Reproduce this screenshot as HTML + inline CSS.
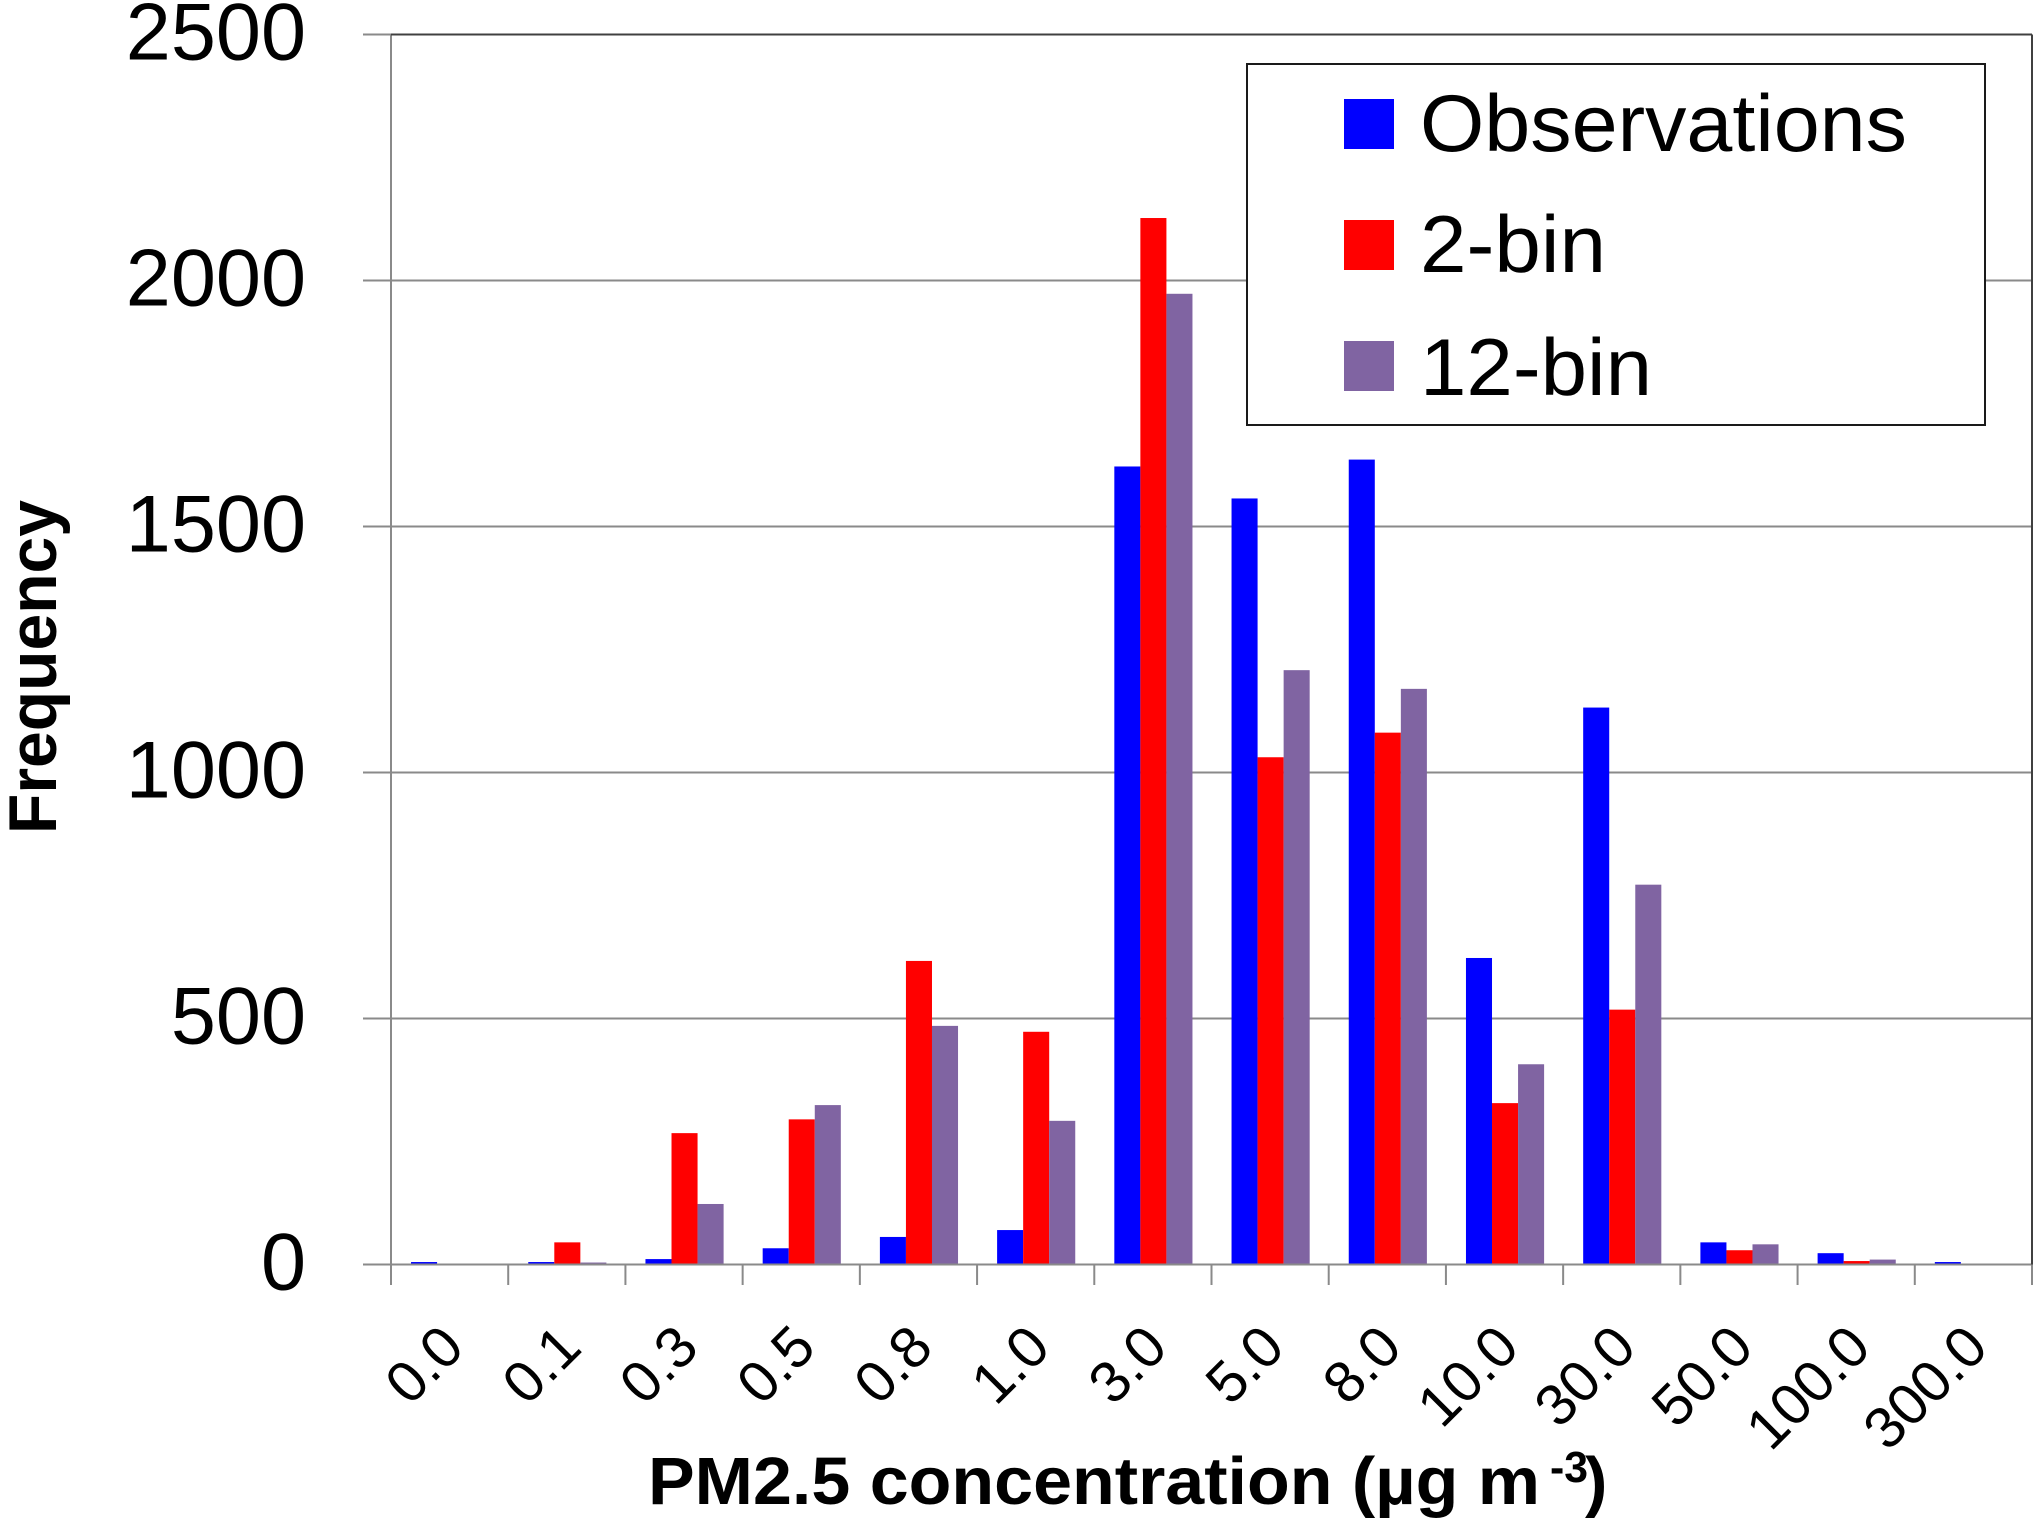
<!DOCTYPE html>
<html lang="en">
<head>
<meta charset="utf-8">
<title>PM2.5 concentration frequency</title>
<style>
html,body{margin:0;padding:0;background:#fff;width:2040px;height:1524px;overflow:hidden}
svg{display:block}
text{font-family:"Liberation Sans",sans-serif;fill:#000}
</style>
</head>
<body>
<svg id="chart" xmlns="http://www.w3.org/2000/svg" width="2040" height="1524" viewBox="0 0 2040 1524">
  <rect x="0" y="0" width="2040" height="1524" fill="#fff"/>
  <g id="grid"></g>
  <g id="bars"></g>
  <g id="axes"></g>
  <g id="ylabels"></g>
  <g id="xlabels"></g>
  <text transform="translate(56,834) rotate(-90)" font-size="68" font-weight="700" textLength="334" lengthAdjust="spacingAndGlyphs">Frequency</text>
  <g>
    <text x="648" y="1504" font-size="67" font-weight="700" textLength="892" lengthAdjust="spacingAndGlyphs">PM2.5 concentration (µg m</text>
    <text x="1550" y="1482" font-size="44" font-weight="700" textLength="38" lengthAdjust="spacingAndGlyphs">-3</text>
    <text x="1585" y="1504" font-size="67" font-weight="700">)</text>
  </g>
  <g>
    <rect x="1247" y="64" width="738" height="361" fill="#fff" stroke="#1a1a1a" stroke-width="2"/>
    <rect x="1344" y="99" width="50" height="50" fill="#0000ff"/>
    <text x="1420" y="151" font-size="81" textLength="487" lengthAdjust="spacingAndGlyphs">Observations</text>
    <rect x="1344" y="220" width="50" height="50" fill="#ff0000"/>
    <text x="1420" y="272" font-size="81" textLength="186" lengthAdjust="spacingAndGlyphs">2-bin</text>
    <rect x="1344" y="341" width="50" height="50" fill="#8064a2"/>
    <text x="1420" y="395" font-size="81" textLength="232" lengthAdjust="spacingAndGlyphs">12-bin</text>
  </g>
</svg>
<script>
const categories = ["0.0","0.1","0.3","0.5","0.8","1.0","3.0","5.0","8.0","10.0","30.0","50.0","100.0","300.0"];
const observations = [5,5,11,33,56,70,1622,1557,1636,623,1132,45,23,5];
const twoBin = [0,45,267,295,617,473,2127,1031,1081,328,518,29,7,0];
const twelveBin = [0,4,123,324,485,292,1973,1208,1170,407,772,41,10,0];
const yTicks = [0,500,1000,1500,2000,2500];

const NS = "http://www.w3.org/2000/svg";
const plotLeft = 391, plotRight = 2032, plotTop = 34.5, plotBottom = 1264.5, yMax = 2500;
const bandWidth = (plotRight - plotLeft) / categories.length;
const barWidth = bandWidth / 4.5;
const barOffset = barWidth * 0.75 + 0.5;

function xScale(i){ return plotLeft + i * bandWidth; }
function yScale(v){ return plotBottom - (v / yMax) * (plotBottom - plotTop); }

function line(parent, x1, y1, x2, y2, color){
  const el = document.createElementNS(NS, "line");
  el.setAttribute("x1", x1);
  el.setAttribute("y1", y1);
  el.setAttribute("x2", x2);
  el.setAttribute("y2", y2);
  el.setAttribute("stroke", color);
  el.setAttribute("stroke-width", 2);
  parent.appendChild(el);
  return el;
}

const grid = document.getElementById("grid");
const axes = document.getElementById("axes");
const barsGroup = document.getElementById("bars");
const ylabels = document.getElementById("ylabels");
const xlabels = document.getElementById("xlabels");

yTicks.forEach(function(t){
  const y = yScale(t);
  const g = line(grid, 363, y, plotRight, y, "#8a8a8a");
  
  
  const label = document.createElementNS(NS, "text");
  
  
  label.setAttribute("x", 306);
  label.setAttribute("y", y + 25);
  label.setAttribute("font-size", 81);
  label.setAttribute("text-anchor", "end");
  label.textContent = t;
  ylabels.appendChild(label);
});

const seriesList = [observations, twoBin, twelveBin];
const seriesKeys = ["observations", "2-bin", "12-bin"];
const seriesColors = ["#0000ff", "#ff0000", "#8064a2"];

seriesList.forEach(function(values, s){
  values.forEach(function(v, i){
    if (v <= 0) return;
    const rect = document.createElementNS(NS, "rect");
    
    
    rect.setAttribute("x", xScale(i) + barOffset + s * barWidth);
    rect.setAttribute("y", yScale(v));
    rect.setAttribute("width", barWidth);
    rect.setAttribute("height", plotBottom - yScale(v));
    rect.setAttribute("fill", seriesColors[s]);
    barsGroup.appendChild(rect);
  });
});

const leftAxis = line(axes, plotLeft, plotTop, plotLeft, plotBottom, "#8a8a8a");


const bottomAxis = line(axes, 363, plotBottom, plotRight, plotBottom, "#8a8a8a");


const topEdge = line(axes, plotLeft, plotTop, plotRight, plotTop, "#404040");


const rightEdge = line(axes, plotRight, plotTop, plotRight, plotBottom, "#404040");



for (let i = 0; i <= categories.length; i++) {
  const tick = line(axes, xScale(i), plotBottom, xScale(i), 1285, "#8a8a8a");
  
  
}

categories.forEach(function(c, i){
  const cx = xScale(i) + bandWidth / 2 + 17;
  const label = document.createElementNS(NS, "text");
  
  
  label.setAttribute("transform", "translate(" + cx + ",1350) rotate(-45)");
  label.setAttribute("font-size", 58);
  label.setAttribute("text-anchor", "end");
  label.textContent = c;
  xlabels.appendChild(label);
});
</script>
</body>
</html>
